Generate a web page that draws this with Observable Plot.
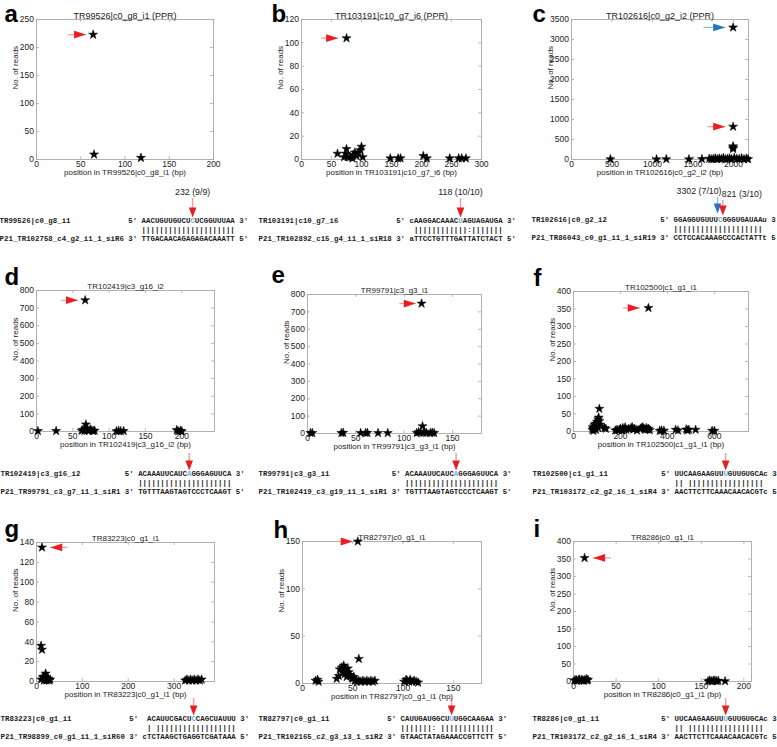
<!DOCTYPE html>
<html>
<head>
<meta charset="utf-8">
<script src="https://cdn.jsdelivr.net/npm/d3@7"></script>
<script src="https://cdn.jsdelivr.net/npm/@observablehq/plot@0.6"></script>
<style>
  html, body { margin: 0; padding: 0; background: #fff; }
  #fig { position: relative; width: 777px; height: 747px; overflow: hidden; background: #fff; }
</style>
</head>
<body>
<div id="fig"></div>
<script>
// ---------------- DATA ----------------
const panelLetters = ["a", "b", "c", "d", "e", "f", "g", "h", "i"];
const panelTitles = [
  "TR99526|c0_g8_i1 (PPR)", "TR103191|c10_g7_i6 (PPR)", "TR102616|c0_g2_i2 (PPR)",
  "TR102419|c3_g16_i2", "TR99791|c3_g3_i1", "TR102500|c1_g1_i1",
  "TR83223|c0_g1_i1", "TR82797|c0_g1_i1", "TR8286|c0_g1_i1"
];
const xLabels = panelTitles.map(t => "position in " + t.replace(" (PPR)", "") + " (bp)");
const yLabel = "No. of reads";

const xMax = [200, 300, 2185, 245, 180, 745, 388, 178, 209];
const yMax = [250, 120, 3500, 800, 800, 400, 140, 150, 400];
const xTicks = [
  [0, 50, 100, 150, 200], [0, 50, 100, 150, 200, 250, 300], [0, 500, 1000, 1500, 2000],
  [0, 50, 100, 150, 200], [0, 50, 100, 150], [0, 200, 400, 600],
  [0, 100, 200, 300], [0, 50, 100, 150], [0, 50, 100, 150, 200]
];
const yTicks = [
  [0, 50, 100, 150, 200, 250], [0, 20, 40, 60, 80, 100, 120], [0, 500, 1000, 1500, 2000, 2500, 3000, 3500],
  [0, 100, 200, 300, 400, 500, 600, 700, 800], [0, 100, 200, 300, 400, 500, 600, 700, 800],
  [0, 50, 100, 150, 200, 250, 300, 350, 400],
  [0, 20, 40, 60, 80, 100, 120, 140], [0, 50, 100, 150], [0, 50, 100, 150, 200, 250, 300, 350, 400]
];

// reads per position (stars)
const posA = [64, 65, 118];
const readsA = [223, 9, 3];
const posB = [75, 60, 75, 74, 77, 81, 71, 85, 86, 89, 92, 95, 98, 100, 102, 148, 161, 165, 203, 209, 247, 262, 267, 274];
const readsB = [104, 5, 9, 5, 2, 2, 2, 1, 4, 6, 3, 6, 8, 11, 2, 1, 1, 1, 3, 1, 1, 1, 1, 1];
const posC = [1995, 1995, 1995, 1995, 1995, 480, 1050, 1170, 1450, 1610, 1700, 1725, 1750, 1775, 1800, 1825, 1850, 1875, 1900, 1925, 1950, 1975, 2010, 2040, 2070, 2100, 2130, 2160, 2180];
const readsC = [3302, 821, 330, 300, 265, 8, 5, 10, 6, 12, 20, 8, 15, 30, 10, 25, 12, 40, 8, 18, 30, 12, 45, 20, 15, 35, 10, 25, 8];
const posD = [67, 68, 2, 27, 62, 64, 66, 68, 70, 72, 74, 76, 78, 80, 110, 113, 116, 120, 193, 195, 198, 200];
const readsD = [745, 40, 3, 3, 5, 10, 3, 15, 8, 4, 12, 6, 3, 5, 2, 4, 2, 3, 8, 2, 4, 2];
const posE = [118, 119, 3, 5, 35, 37, 55, 60, 62, 73, 83, 113, 115, 117, 120, 121, 123, 127, 129, 131];
const readsE = [748, 42, 3, 3, 3, 4, 3, 3, 4, 3, 3, 3, 8, 5, 3, 10, 4, 3, 5, 3];
const posF = [319, 110, 80, 82, 85, 88, 90, 92, 95, 98, 100, 103, 105, 107, 110, 112, 115, 85, 95, 105, 132, 138, 178, 185, 195, 200, 205, 210, 215, 220, 225, 235, 245, 250, 255, 260, 270, 285, 290, 295, 300, 305, 310, 315, 320, 325, 367, 375, 385, 435, 445, 480, 485, 491, 520, 590, 600];
const readsF = [353, 65, 5, 12, 8, 15, 20, 10, 22, 18, 28, 25, 35, 40, 30, 20, 15, 2, 5, 10, 10, 8, 3, 5, 5, 8, 3, 10, 6, 12, 5, 8, 10, 12, 6, 8, 3, 8, 10, 12, 8, 5, 10, 6, 8, 4, 2, 3, 2, 5, 3, 6, 3, 5, 5, 2, 2];
const posG = [12, 10, 12, 20, 10, 14, 15, 16, 18, 20, 22, 24, 26, 28, 30, 324, 328, 332, 336, 340, 344, 348, 352, 356, 360];
const readsG = [135, 36, 32, 8, 2, 4, 5, 1, 3, 2, 1, 2, 3, 1, 2, 1, 2, 1, 2, 1, 2, 1, 2, 1, 2];
const posH = [55, 56, 13, 15, 16, 34, 36, 37, 39, 40, 41, 42, 43, 44, 45, 46, 47, 48, 49, 50, 51, 52, 53, 54, 56, 58, 60, 62, 64, 66, 68, 70, 72, 101, 103, 104, 106, 107, 109, 111, 113, 115];
const readsH = [150, 26, 3, 4, 2, 5, 8, 15, 17, 12, 19, 10, 15, 7, 16, 12, 9, 8, 6, 5, 7, 3, 4, 2, 3, 2, 3, 2, 3, 2, 3, 2, 3, 2, 4, 3, 2, 4, 2, 3, 2, 1];
const posI = [13, 1, 3, 4, 6, 7, 9, 10, 12, 13, 15, 16, 17, 158, 160, 162, 164, 166, 168, 170, 178];
const readsI = [353, 3, 5, 2, 4, 6, 3, 5, 2, 4, 7, 3, 5, 1, 3, 1, 2, 3, 1, 2, 1];
const positions = [posA, posB, posC, posD, posE, posF, posG, posH, posI];
const reads = [readsA, readsB, readsC, readsD, readsE, readsF, readsG, readsH, readsI];

// pointer arrows in the scatter plots (tail x, tip x, read count, kind)
const ptrPanel = [0, 1, 2, 2, 3, 4, 5, 6, 7, 8];
const ptrTail  = [36, 33, 1629, 1678, 34, 95, 212, 67, 34, 44];
const ptrTip   = [56, 61, 1897, 1897, 57, 112, 282, 30, 50, 23];
const ptrReads = [223, 104, 3302, 821, 745, 748, 353, 135, 150, 353];
const ptrKind  = ["red", "red", "blue", "red", "red", "red", "red", "red", "red", "red"];

// alignments
const targetNames = ["TR99526|c0_g8_i1", "TR103191|c10_g7_i6", "TR102616|c0_g2_i2", "TR102419|c3_g16_i2", "TR99791|c3_g3_i1", "TR102500|c1_g1_i1", "TR83223|c0_g1_i1", "TR82797|c0_g1_i1", "TR8286|c0_g1_i1"];
const siRNANames = ["P21_TR102758_c4_g2_i1_1_siR6", "P21_TR102892_c15_g4_i1_1_siR18", "P21_TR86043_c0_g1_i1_1_siR19", "P21_TR99791_c3_g7_i1_1_siR1", "P21_TR102419_c3_g19_i1_1_siR1", "P21_TR103172_c2_g2_i6_1_siR4", "P21_TR98899_c0_g1_i1_1_siR60", "P21_TR102165_c2_g3_i3_1_siR2", "P21_TR103172_c2_g2_i6_1_siR4"];
const targetSeqs = ["AACUGUUGUCUCUCGGUUUAA", "cAAGGACAAACUAGUAGAUGA", "GGAGGUGUUUCGGGUGAUAAu", "ACAAAUUCAUCAGGGAGUUCA", "ACAAAUUCAUCAGGGAGUUCA", "UUCAAGAAGUUUGUUGUGCAc", " ACAUUCGACUCCAGCUAUUU", "CAUUGAUGGCUUUGGCAAGAA", "UUCAAGAAGUUUGUUGUGCAc"];
const siRNASeqs = ["TTGACAACAGAGAGACAAATT", "aTTCCTGTTTGATTATCTACT", "CCTCCACAAAGCCCACTATTt", "TGTTTAAGTAGTCCCTCAAGT", "TGTTTAAGTAGTCCCTCAAGT", "AACTTCTTCAAACAACACGTc", "cTCTAAGCTGAGGTCGATAAA", "GTAACTATAGAAACCGTTCTT", "AACTTCTTCAAACAACACGTc"];
const pairLines = ["|||||||||||||||||||||", " ||||||||||||:|||||||", "||||||||||||||||||||", "|||||||||||||||||||||", "|||||||||||||||||||||", "|| |||||||||||||||||", " | ||||||||||||||||||", "|||||||: ||||||||||||", "|| |||||||||||||||||"];
const cleaveIdx = [11, 11, 10, 11, 11, 11, 11, 11, 11];
// cleavage-site arrows above the alignments (panel, position in sequence chars, label, kind)
const cutPanel = [0, 1, 2, 2, 3, 4, 5, 6, 7, 8];
const cutPos   = [11.5, 11.5, 9.9, 11.1, 11.5, 11.5, 11.5, 11.5, 11.5, 11.5];
const cutLabel = ["232 (9/9)", "118 (10/10)", "3302 (7/10)", "821 (3/10)", "", "", "", "", "", ""];
const cutKind  = ["red", "red", "blue", "red", "red", "red", "red", "red", "red", "red"];

// ---------------- LAYOUT / STYLE ----------------
const FONT = '"Liberation Sans", Arial, Helvetica, sans-serif';
const MONO = '"Liberation Mono", "Courier New", monospace';
const COLORS = {red: "#ec1c24", blue: "#1f78c1"};
const TAILS = {red: "#f0a0a0", blue: "#8fbde0"};
const HILITE = "#79aee0";
const GRAY = "#a9a9a9";
const frames = [ // left, top, right, bottom
  [36, 19, 213, 159], [301, 19, 481, 159], [571, 19, 748, 159],
  [36, 290, 214, 431], [307, 294, 481, 433], [573, 291, 748, 431],
  [36, 542, 214, 681], [302, 541, 481, 683], [573, 541, 751, 681]
];
const letterPos = [[4, 21.5], [271, 21.5], [532, 21.5], [4, 284], [271, 282], [533, 285], [4, 536], [273, 537], [533, 536]];
const titleSize = [9, 9, 9, 8, 8, 8, 8, 8, 8];
const alignPos = [[-1.5, 220], [258, 220], [531, 219], [0, 473], [258, 473], [532, 473], [0, 718], [258, 718], [532, 718]];
const MONO_SIZE = 7.4, CW = MONO_SIZE * 0.6, LINE = 9;

const headRight = {draw(ctx) { ctx.moveTo(0, 0); ctx.lineTo(-12, -3.9); ctx.lineTo(-12, 3.9); ctx.closePath(); }};
const headDown = {draw(ctx) { ctx.moveTo(0, 0); ctx.lineTo(-3.8, -10); ctx.lineTo(3.8, -10); ctx.closePath(); }};

const fig = document.getElementById("fig");

function scatter(i) {
  const [L, T, R, B] = frames[i];
  const ML = 44, MT = 34, MR = 12, MB = 26;
  const innerW = R - L, innerH = B - T;
  const pts = positions[i].map((x, k) => ({x, y: reads[i][k]}));
  const ptrs = ptrPanel.map((p, k) => ({p, tail: ptrTail[k], tip: ptrTip[k], y: ptrReads[k], kind: ptrKind[k]})).filter(d => d.p === i);
  const marks = [
    Plot.frame({stroke: GRAY, strokeWidth: 0.9}),
    Plot.ruleX(xTicks[i], {x: d => d, insetTop: innerH - 3, stroke: GRAY, strokeWidth: 0.8}),
    Plot.ruleX(xTicks[i], {x: d => d, insetBottom: innerH - 3, stroke: GRAY, strokeWidth: 0.8}),
    Plot.ruleY(yTicks[i], {y: d => d, insetRight: innerW - 3, stroke: GRAY, strokeWidth: 0.8}),
    Plot.ruleY(yTicks[i], {y: d => d, insetLeft: innerW - 3, stroke: GRAY, strokeWidth: 0.8}),
    Plot.axisX(xTicks[i], {tickSize: 0, tickPadding: 1.5, label: null, tickFormat: d => String(d), fontSize: 8.5, fill: "#222"}),
    Plot.axisY(yTicks[i], {tickSize: 0, tickPadding: 2.5, label: null, tickFormat: d => String(d), fontSize: 8.5, fill: "#222"}),
    Plot.text([panelTitles[i]], {frameAnchor: "top", dy: -7, text: d => d, fontSize: titleSize[i], fill: "#222"}),
    Plot.text([xLabels[i]], {frameAnchor: "bottom", dy: 15.5, text: d => d, fontSize: 8, fill: "#222"}),
    Plot.text([yLabel], {frameAnchor: "left", dx: -21, rotate: -90, text: d => d, fontSize: 8, fill: "#222"}),
    Plot.text([panelLetters[i]], {frameAnchor: "top-left", dx: letterPos[i][0] - L, dy: letterPos[i][1] - T,
      text: d => d, textAnchor: "start", lineAnchor: "bottom", fontSize: 24, fontWeight: "bold", fill: "#000"})
  ];
  for (const kind of ["red", "blue"]) {
    const ks = ptrs.filter(d => d.kind === kind);
    if (!ks.length) continue;
    marks.push(Plot.link(ks, {x1: "tail", x2: "tip", y1: "y", y2: "y", stroke: TAILS[kind], strokeWidth: 1.3}));
    const right = ks.filter(d => d.tail < d.tip), left = ks.filter(d => d.tail > d.tip);
    if (right.length) marks.push(Plot.dot(right, {x: "tip", y: "y", symbol: headRight, r: 4, fill: COLORS[kind], stroke: "none"}));
    if (left.length) marks.push(Plot.dot(left, {x: "tip", y: "y", symbol: headRight, rotate: 180, r: 4, fill: COLORS[kind], stroke: "none"}));
  }
  marks.push(Plot.dot(pts, {x: "x", y: "y", symbol: "star", r: 2.85, fill: "#000", stroke: "#000", strokeWidth: 0.5}));
  const svg = Plot.plot({
    width: innerW + ML + MR, height: innerH + MT + MB,
    marginLeft: ML, marginRight: MR, marginTop: MT, marginBottom: MB,
    x: {domain: [0, xMax[i]]}, y: {domain: [0, yMax[i]]},
    style: {position: "absolute", left: (L - ML) + "px", top: (T - MT) + "px", overflow: "visible",
      background: "transparent", fontFamily: FONT, fontSize: "8px", color: "#222"},
    marks
  });
  fig.appendChild(svg);
}

function alignment(i) {
  const [left, line1] = alignPos[i];
  const sir = siRNANames[i];
  const start = sir.length + 4;
  const rows = [
    targetNames[i].padEnd(sir.length + 1) + "5' " + targetSeqs[i] + " 3'",
    " ".repeat(start) + pairLines[i],
    sir + " 3' " + siRNASeqs[i] + " 5'"
  ];
  const chars = [];
  rows.forEach((s, r) => [...s].forEach((c, col) => {
    if (c !== " ") chars.push({c, col, r, hi: r === 0 && col === start + cleaveIdx[i]});
  }));
  const ncol = 62, H = 60, Y1 = 34;
  const cuts = cutPanel.map((p, k) => ({p, x: start + cutPos[k], label: cutLabel[k], kind: cutKind[k]})).filter(d => d.p === i);
  const labelled = i < 3;
  const marks = [
    Plot.text(chars.filter(d => !d.hi), {x: "col", y: d => Y1 + d.r * LINE, text: "c", textAnchor: "start",
      fontFamily: MONO, fontSize: MONO_SIZE, fontWeight: "bold", fill: "#1a1a1a"}),
    Plot.text(chars.filter(d => d.hi), {x: "col", y: d => Y1 + d.r * LINE, text: "c", textAnchor: "start",
      fontFamily: MONO, fontSize: MONO_SIZE, fontWeight: "bold", fill: HILITE})
  ];
  const multi = cuts.length > 1;
  cuts.forEach((d, k) => {
    const tip = multi ? (d.kind === "blue" ? Y1 - 6 : Y1 - 4) : Y1 - 3;
    const tailTop = labelled ? (multi ? (d.kind === "blue" ? Y1 - 22 : Y1 - 19) : Y1 - 22) : Y1 - 20;
    marks.push(Plot.ruleX([d], {x: "x", y1: tailTop, y2: tip - 9, stroke: TAILS[d.kind], strokeWidth: 1.5}));
    marks.push(Plot.dot([d], {x: "x", y: tip, symbol: headDown, r: 4, fill: COLORS[d.kind], stroke: "none"}));
    if (d.label) {
      const anchor = multi ? (d.kind === "blue" ? "end" : "start") : "middle";
      const dxc = multi ? (d.kind === "blue" ? 4 : -1) : 0;
      const ly = multi ? (d.kind === "blue" ? 6 : 9) : 6;
      marks.push(Plot.text([d], {x: "x", y: ly, dx: dxc, text: "label", textAnchor: anchor,
        fontFamily: FONT, fontSize: 8.8, fill: "#222"}));
    }
  });
  const svg = Plot.plot({
    width: ncol * CW, height: H, marginLeft: 0, marginRight: 0, marginTop: 0, marginBottom: 0,
    x: {domain: [0, ncol], range: [0, ncol * CW], axis: null},
    y: {domain: [0, H], range: [0, H], axis: null},
    style: {position: "absolute", left: left + "px", top: (line1 - Y1) + "px", overflow: "visible",
      background: "transparent", fontFamily: FONT, fontSize: "8px", color: "#222"},
    marks
  });
  fig.appendChild(svg);
}

for (let i = 0; i < 9; i++) { alignment(i); scatter(i); }
</script>
</body>
</html>
